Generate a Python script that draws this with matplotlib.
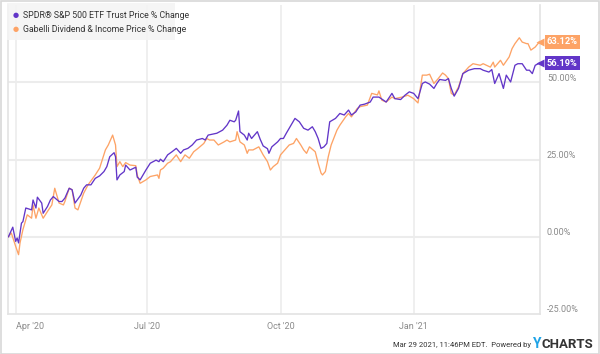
import matplotlib
matplotlib.use("Agg")
import matplotlib.pyplot as plt
import matplotlib.dates as mdates
from matplotlib.patches import Rectangle
import pandas as pd

# days since 2020-03-27 and % change
spy_days = [0, 3, 5, 6, 7, 9, 10, 12, 16, 17, 19, 20, 23, 24, 27, 29, 31, 35, 37, 39,
            42, 44, 46, 50, 52, 54, 57, 60, 63, 66, 68, 70, 73, 74, 75, 77, 80, 81, 84, 88,
            89, 91, 95, 98, 102, 104, 105, 107, 110, 113, 116, 119, 121, 124, 127, 130, 134, 136, 138, 144,
            148, 151, 153, 156, 157, 159, 160, 163, 165, 166, 168, 172, 174, 176, 179, 180, 182, 186, 188, 190,
            192, 196, 198, 201, 204, 207, 210, 212, 214, 216, 218, 220, 222, 226, 229, 232, 235, 237, 240, 243,
            246, 250, 252, 256, 261, 265, 267, 271, 274, 277, 280, 283, 286, 288, 291, 294, 296, 298, 302, 304,
            306, 308, 311, 314, 318, 322, 326, 328, 332, 334, 336, 339, 340, 342, 344, 347, 350, 352, 355, 358,
            360, 362, 364, 367]
spy_pct = [0, 3.1, -1.5, -0.4, -2.0, 4.4, 4.9, 9.3, 8.7, 11.9, 9.3, 12.8, 10.9, 7.6, 9.8, 11.9, 13.0, 11.4, 11.4, 12.5,
           15.7, 15.2, 10.9, 13.5, 15.7, 16.8, 16.8, 18.9, 19.7, 21.1, 22.7, 25.9, 27.2, 25.9, 18.4, 20.0, 21.1, 23.2, 21.6, 22.5,
           19.3, 18.4, 21.6, 23.8, 24.8, 24.3, 25.1, 24.3, 26.5, 27.5, 28.6, 27.0, 28.1, 28.6, 29.7, 31.3, 31.8, 31.3, 32.9, 33.5,
           34.5, 36.1, 37.7, 37.2, 37.7, 40.7, 34.0, 32.9, 31.3, 33.5, 31.8, 34.0, 31.5, 29.4, 28.5, 27.0, 29.1, 30.7, 31.8, 31.8,
           33.5, 36.7, 38.3, 37.2, 35.1, 34.5, 35.6, 34.0, 31.8, 28.6, 29.1, 30.2, 37.2, 38.3, 39.9, 39.4, 41.0, 39.4, 40.4, 42.6,
           42.9, 43.6, 45.2, 45.2, 43.6, 46.4, 44.7, 44.4, 45.8, 46.9, 46.4, 44.7, 49.6, 50.1, 49.4, 48.0, 49.6, 50.9, 50.6, 51.2,
           48.0, 45.5, 48.0, 52.8, 53.9, 54.4, 54.4, 53.9, 53.3, 54.1, 49.6, 52.8, 51.2, 48.0, 52.3, 50.1, 55.5, 56.0, 56.0, 53.9,
           53.9, 52.8, 55.5, 56.19]

gdv_days = [0, 2, 5, 7, 8, 10, 13, 16, 17, 19, 21, 24, 27, 30, 32, 35, 38, 39, 42, 44,
            46, 48, 52, 55, 60, 63, 67, 69, 72, 74, 75, 77, 79, 81, 84, 88, 89, 91, 95, 98,
            103, 104, 105, 107, 110, 112, 114, 116, 119, 122, 125, 128, 131, 135, 137, 139, 142, 145, 149, 151,
            153, 157, 158, 160, 163, 165, 166, 169, 173, 176, 179, 181, 183, 186, 188, 191, 194, 197, 199, 202,
            204, 206, 208, 212, 214, 216, 217, 219, 221, 223, 227, 229, 233, 235, 237, 241, 243, 248, 251, 255,
            256, 258, 261, 265, 267, 272, 276, 280, 283, 286, 289, 291, 294, 297, 300, 302, 304, 306, 308, 311,
            314, 318, 321, 326, 328, 333, 335, 336, 340, 342, 346, 348, 350, 353, 355, 358, 359, 361, 364, 367]
gdv_pct = [0, 1.2, -3.1, -5.8, -2.0, 2.3, 7.1, 6.0, 10.3, 6.0, 9.3, 6.0, 8.2, 10.3, 15.7, 10.9, 10.3, 11.4, 15.7, 15.2,
           9.3, 8.7, 14.1, 16.8, 20.0, 22.2, 28.1, 29.7, 32.9, 29.7, 22.7, 24.3, 22.7, 24.0, 23.2, 23.0, 20.0, 17.3, 18.4, 19.5,
           20.0, 18.9, 21.6, 22.2, 23.8, 24.3, 25.4, 26.5, 24.3, 26.5, 25.4, 27.5, 28.6, 30.2, 31.8, 31.3, 31.3, 29.7, 30.7, 31.3,
           30.7, 31.3, 34.0, 30.7, 29.7, 27.0, 28.1, 28.1, 29.1, 26.5, 24.3, 21.6, 22.7, 23.8, 26.5, 28.1, 29.7, 30.2, 31.8, 29.7,
           28.1, 27.0, 29.1, 27.5, 23.8, 20.6, 20.0, 21.1, 25.9, 29.7, 34.5, 36.1, 38.8, 39.9, 38.8, 41.5, 42.1, 42.6, 46.4, 45.9,
           47.2, 44.2, 43.6, 45.2, 44.7, 45.2, 45.8, 44.7, 43.3, 52.3, 52.3, 52.6, 49.6, 51.2, 53.0, 52.3, 51.2, 46.4, 45.8, 48.5,
           52.8, 54.9, 56.0, 55.5, 56.0, 54.9, 56.5, 54.9, 57.1, 55.5, 58.2, 60.9, 62.5, 64.4, 63.0, 62.5, 62.5, 60.4, 61.4, 63.12]

spy_name = "SPDR\u00ae S&P 500 ETF Trust Price % Change"
gdv_name = "Gabelli Dividend & Income Price % Change"
y_ticks = [50, 25, 0, -25]
x_ticks = ["2020-04-01", "2020-07-01", "2020-10-01", "2021-01-01"]
x_labels = ["Apr '20", "Jul '20", "Oct '20", "Jan '21"]

purple = "#6236c8"
orange = "#fda366"
grid = "#ececec"
gray = "#8a8a8a"

plt.rcParams["font.family"] = ["Roboto", "DejaVu Sans"]

start = pd.Timestamp("2020-03-27")
spy_dates = start + pd.to_timedelta(spy_days, unit="D")
gdv_dates = start + pd.to_timedelta(gdv_days, unit="D")

fig = plt.figure(figsize=(6, 3.54), dpi=100)
ax = fig.add_axes([8 / 600, 40 / 354, 532 / 600, 309 / 354])

ax.plot(gdv_dates, gdv_pct, color=orange, lw=0.95, zorder=3)
ax.plot(spy_dates, spy_pct, color=purple, lw=0.95, zorder=4)

ax.set_xlim(start - pd.Timedelta(days=0.3), start + pd.Timedelta(days=367.3))
ax.set_ylim(-25, 75)

# grid
for v in y_ticks[:-1]:
    ax.axhline(v, color=grid, lw=1.5, zorder=1)
for d in x_ticks:
    ax.axvline(pd.Timestamp(d), color=grid, lw=1.2, zorder=1)

ax.set_xticks([pd.Timestamp(d) for d in x_ticks])
ax.set_xticklabels(x_labels, fontsize=6.5, color=gray)
ax.get_xticklabels()[0].set_ha("left")
ax.tick_params(axis="x", length=0, pad=6)
ax.set_yticks([])

ax.spines["top"].set_visible(False)
for s in ["left", "right", "bottom"]:
    ax.spines[s].set_color("#e3e3e3")
    ax.spines[s].set_linewidth(1.2)

# right side percent labels
for v in y_ticks:
    ax.annotate("%.2f%%" % v, xy=(1, v), xycoords=("axes fraction", "data"),
                xytext=(5, 3), textcoords="offset points", fontsize=6.5,
                color=gray, va="center", ha="left", annotation_clip=False)

# end value tags
for dates, vals, col in [(gdv_dates, gdv_pct, orange), (spy_dates, spy_pct, purple)]:
    ax.plot([1.0], [vals[-1]], marker="<", ms=6, color=col, mec="none",
            transform=ax.get_yaxis_transform(), clip_on=False, zorder=6)
    ax.annotate("%.2f%%" % vals[-1], xy=(1, vals[-1]), xycoords=("axes fraction", "data"),
                xytext=(5, 0), textcoords="offset points", fontsize=6.7,
                fontweight="bold", color="white", va="center", ha="left",
                annotation_clip=False, zorder=7,
                bbox=dict(boxstyle="square,pad=0.25", fc=col, ec="none"))

# legend box
fig.patches.append(Rectangle((7 / 600, 1 - 40 / 354), 168 / 600, 37 / 354,
                             transform=fig.transFigure, fc="#f4f4f4", ec="none",
                             alpha=0.9, zorder=5))
for i, (name, col) in enumerate([(spy_name, purple), (gdv_name, orange)]):
    yy = 1 - (16 + 13 * i) / 354
    fig.text(15.5 / 600, yy, "\u25cf", color=col, fontsize=5, va="center", ha="center",
             zorder=6)
    fig.text(23 / 600, yy, name, color="#333333", fontsize=6.3, va="center", zorder=6)

# outer frame
fig.patches.append(Rectangle((0.5 / 600, 0.5 / 354), 598.5 / 600, 352.5 / 354,
                             transform=fig.transFigure, fc="none", ec="#d8d8d8", lw=1.2))

# footer
fig.text(531 / 600, 1 - 345 / 354, "Mar 29 2021, 11:46PM EDT.  Powered by",
         fontsize=5.5, color="#333333", ha="right", va="center")
fig.text(533 / 600, 1 - 344 / 354, "Y", fontsize=10, fontweight="bold",
         color="#1fa3e6", ha="left", va="center")
fig.text(542 / 600, 1 - 344 / 354, "CHARTS", fontsize=9.5, fontweight="bold",
         color="#333333", ha="left", va="center")

fig.savefig("out.png", dpi=100)
